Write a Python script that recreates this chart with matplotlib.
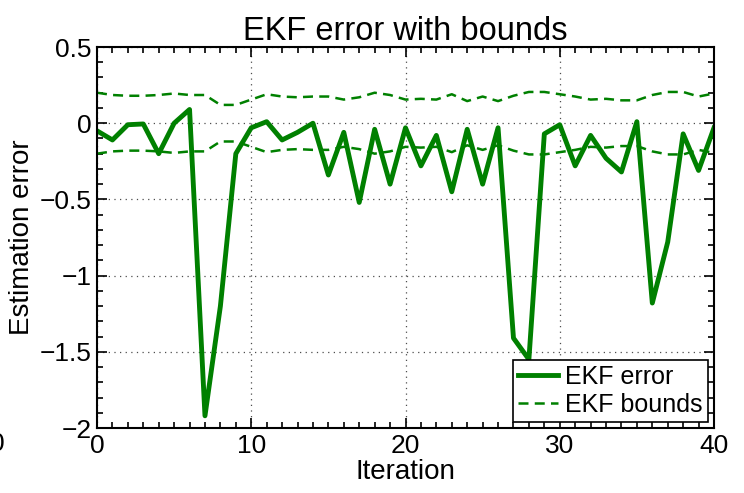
import matplotlib
matplotlib.use('Agg')
import matplotlib.pyplot as plt
from matplotlib.ticker import MultipleLocator
import numpy as np

# ---- data ----
iteration = np.arange(0, 41)

ekf_error = [-0.05, -0.11, -0.01, -0.005, -0.20, 0.00, 0.09, -1.92, -1.20, -0.20,
             -0.03, 0.01, -0.11, -0.06, 0.00, -0.34, -0.06, -0.52, -0.04, -0.40,
             -0.03, -0.28, -0.08, -0.45, -0.04, -0.40, -0.03, -1.41, -1.55, -0.07,
             -0.01, -0.28, -0.08, -0.23, -0.32, 0.01, -1.18, -0.78, -0.07, -0.31,
             -0.03]

ekf_bound = [0.20, 0.185, 0.18, 0.18, 0.185, 0.195, 0.185, 0.185, 0.12, 0.12,
             0.155, 0.19, 0.175, 0.17, 0.175, 0.175, 0.155, 0.17, 0.20, 0.185,
             0.155, 0.16, 0.155, 0.19, 0.145, 0.175, 0.145, 0.18, 0.205, 0.205,
             0.19, 0.175, 0.155, 0.16, 0.15, 0.15, 0.185, 0.205, 0.205, 0.175,
             0.195]

green = '#008000'

plt.rcParams['font.family'] = ['Liberation Sans', 'DejaVu Sans']

fig = plt.figure(figsize=(7.44, 4.93), dpi=100)
ax = fig.add_axes([97/744, 1 - 428/493, (714 - 97)/744, (428 - 47)/493])

lower = [-b for b in ekf_bound]
ax.plot(iteration, ekf_error, color=green, lw=3.5, label='EKF error')
ax.plot(iteration, ekf_bound, color=green, lw=1.8, dashes=(4, 2.5), label='EKF bounds')
ax.plot(iteration, lower, color=green, lw=1.8, dashes=(4, 2.5))

ax.set_xlim(0, 40)
ax.set_ylim(-2, 0.5)
ax.xaxis.set_major_locator(MultipleLocator(10))
ax.xaxis.set_minor_locator(MultipleLocator(1))
ax.yaxis.set_major_locator(MultipleLocator(0.5))
ax.yaxis.set_minor_locator(MultipleLocator(0.1))
# matlab style minus signs
ax.yaxis.set_major_formatter(plt.FuncFormatter(lambda v, p: ('%g' % v).replace('-', '−')))

ax.tick_params(which='both', direction='in', top=True, right=True, labelsize=19, width=1.2)
ax.tick_params(which='major', length=7, pad=4)
ax.tick_params(which='minor', length=4)
for s in ax.spines.values():
    s.set_linewidth(1.5)

ax.grid(True, which='major', linestyle=(0, (1, 3.5)), color='0.3', lw=0.9)

ax.set_title('EKF error with bounds', fontsize=23.5, pad=5)
ax.set_xlabel('Iteration', fontsize=20, labelpad=1)
ax.set_ylabel('Estimation error', fontsize=20, labelpad=3)

leg = ax.legend(loc='lower right', fontsize=18, fancybox=False, framealpha=1,
                edgecolor='black', borderaxespad=0.25, handlelength=1.6,
                handletextpad=0.3, borderpad=0.2, labelspacing=0.15)
leg.get_frame().set_linewidth(1.2)

# clipped tick label at the far left edge, as in the reference
fig.text(-3/744, 1 - 432/493, '0', ha='center', va='top', fontsize=19)

fig.savefig('out.png', dpi=100)
